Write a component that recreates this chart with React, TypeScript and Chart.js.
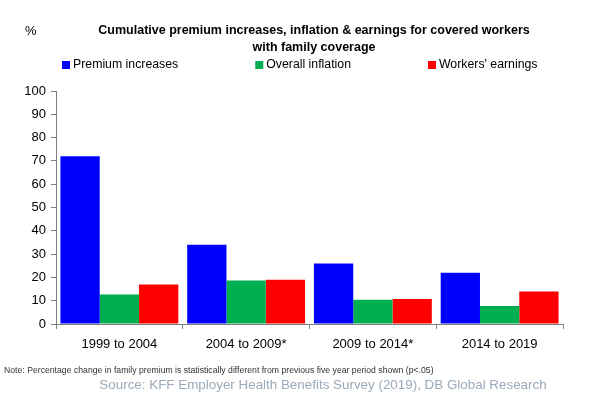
import React, { useEffect, useRef } from "react";
import { Chart, registerables } from "chart.js";

Chart.register(...registerables);

const categories = ["1999 to 2004", "2004 to 2009*", "2009 to 2014*", "2014 to 2019"];
const premiumIncreases = [72, 34, 26, 22];
const overallInflation = [12.7, 18.7, 10.4, 7.7];
const workersEarnings = [17, 19, 10.7, 13.9];
const seriesLabels = ["Premium increases", "Overall inflation", "Workers' earnings"];
const seriesColors = ["#0000FF", "#00B050", "#FF0000"];
const yTicksMax = 100;
const yTickStep = 10;

const titleLines = [
  "Cumulative premium increases, inflation & earnings for covered workers",
  "with family coverage",
];
const unitLabel = "%";
const noteText =
  "Note: Percentage change in family premium is statistically different from previous five year period shown (p<.05)";
const sourceText = "Source: KFF Employer Health Benefits Survey (2019), DB Global Research";

const FONT = "'Liberation Sans', Arial, Helvetica, sans-serif";

const decorPlugin = {
  id: "decor",
  afterDraw(chart: any) {
    const ctx = chart.ctx as CanvasRenderingContext2D;
    ctx.save();
    ctx.textBaseline = "middle";

    // unit label
    ctx.fillStyle = "#000";
    ctx.font = `13px ${FONT}`;
    ctx.textAlign = "left";
    ctx.fillText(unitLabel, 25, 31);

    // title
    ctx.font = `bold 12.5px ${FONT}`;
    ctx.textAlign = "center";
    ctx.fillText(titleLines[0], 314, 31);
    ctx.fillText(titleLines[1], 314, 48);

    // legend
    ctx.font = `12.3px ${FONT}`;
    ctx.textAlign = "left";
    let x = 62;
    const ly = 65;
    chart.data.datasets.forEach((ds: any) => {
      ctx.fillStyle = ds.backgroundColor;
      ctx.fillRect(x, ly - 4, 8, 8);
      ctx.fillStyle = "#000";
      ctx.fillText(ds.label, x + 11, ly);
      x += 11 + ctx.measureText(ds.label).width + 77;
    });

    // note (fitted to its width in the reference)
    ctx.font = `8px ${FONT}`;
    const natural = ctx.measureText(noteText).width;
    const noteSize = Math.min(9, (8 * 430) / natural);
    ctx.font = `${noteSize}px ${FONT}`;
    ctx.fillStyle = "#333";
    ctx.textAlign = "left";
    ctx.fillText(noteText, 4, 371);

    // source
    ctx.font = `13.4px ${FONT}`;
    ctx.fillStyle = "#9BA9B9";
    ctx.textAlign = "center";
    ctx.fillText(sourceText, 323, 385);

    ctx.restore();
  },
};

export default function App() {
  const ref = useRef<HTMLCanvasElement | null>(null);

  useEffect(() => {
    document.body.style.margin = "0";
    const canvas = ref.current;
    if (!canvas) return;
    const values = [premiumIncreases, overallInflation, workersEarnings];
    const chart = new Chart(canvas, {
      type: "bar",
      data: {
        labels: categories,
        datasets: values.map((v, i) => ({
          label: seriesLabels[i],
          data: v,
          backgroundColor: seriesColors[i],
          borderWidth: 0,
          categoryPercentage: 0.93,
          barPercentage: 1.0,
        })),
      },
      options: {
        responsive: false,
        animation: false,
        devicePixelRatio: 1,
        layout: { padding: { top: 91, right: 42, bottom: 0, left: 0 } },
        plugins: {
          legend: { display: false },
          title: { display: false },
          tooltip: { enabled: false },
        },
        scales: {
          x: {
            offset: true,
            grid: {
              drawOnChartArea: false,
              drawTicks: true,
              tickLength: 5,
              color: "#7f7f7f",
              offset: true,
            },
            border: { color: "#7f7f7f", width: 1 },
            ticks: {
              color: "#000",
              font: { family: FONT, size: 13 },
              padding: 8,
              maxRotation: 0,
            },
            afterFit: (scale: any) => {
              scale.height = 69;
            },
          },
          y: {
            min: 0,
            max: yTicksMax,
            grid: {
              drawOnChartArea: false,
              drawTicks: true,
              tickLength: 5,
              color: "#7f7f7f",
            },
            border: { color: "#7f7f7f", width: 1 },
            ticks: {
              stepSize: yTickStep,
              color: "#000",
              font: { family: FONT, size: 13 },
              padding: 5,
            },
            afterFit: (scale: any) => {
              scale.width = 56;
            },
          },
        },
      },
      plugins: [decorPlugin],
    });
    return () => chart.destroy();
  }, []);

  return <canvas ref={ref} width={605} height={393} style={{ display: "block" }} />;
}
